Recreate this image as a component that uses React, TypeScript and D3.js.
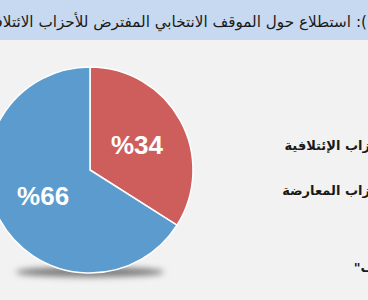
import React from 'react';
import * as d3 from 'd3';

const categories = ['الأحزاب الإئتلافية', 'الأحزاب المعارضة'];
const values = [34, 66];
const valueLabels = ['%34', '%66'];
const colors = ['#cd5e5c', '#5b9bcd'];
const titlePrefix = 'شكل (1):';
const titleText = 'استطلاع حول الموقف الانتخابي المفترض للأحزاب الائتلافية';
const noteText = '"لا أعرف"';

export default function App() {
  const W = 368;
  const H = 300;
  const cx = 90;
  const cy = 170;
  const r = 103;
  const pieData = d3.pie<number>().sort(null).value((d) => d)(values);
  const arc = d3.arc<d3.PieArcDatum<number>>().innerRadius(0).outerRadius(r);
  const labelArc = d3.arc<d3.PieArcDatum<number>>().innerRadius(r * 0.52).outerRadius(r * 0.52);
  const legendY = d3.scalePoint<string>().domain(categories).range([145, 190]);
  const arabic = '"DejaVu Sans", "Noto Sans", sans-serif';

  return (
    <svg width={W} height={H} style={{ position: 'absolute', left: 0, top: 0 }}>
      <defs>
        <filter id="sh" x="-50%" y="-200%" width="200%" height="500%">
          <feGaussianBlur stdDeviation="3" />
        </filter>
      </defs>
      <rect x={0} y={0} width={W} height={H} fill="#f2f2f2" />
      <rect x={0} y={0} width={W} height={40} fill="#c6d9f0" />
      <text x={351} y={27} direction="rtl" textAnchor="start" fontFamily={arabic} fontSize={15.2} fill="#1a1a1a">
        {titleText}
      </text>
      <text x={356} y={27} direction="rtl" textAnchor="end" fontFamily={arabic} fontSize={15.2} fill="#1a1a1a">
        {titlePrefix}
      </text>
      <ellipse cx={cx} cy={cy + r - 1} rx={r * 0.72} ry={5} fill="#444" opacity={0.7} filter="url(#sh)" />
      <g transform={`translate(${cx},${cy})`}>
        {pieData.map((d, i) => (
          <path key={i} d={arc(d) || ''} fill={colors[i]} stroke="#ffffff" strokeWidth={1.5} />
        ))}
        {pieData.map((d, i) => {
          const [lx, ly] = labelArc.centroid(d);
          return (
            <text key={'l' + i} x={lx} y={ly} dy="0.36em" textAnchor="middle" fontFamily='"Liberation Sans", Arial, sans-serif' fontWeight="bold" fontSize={26} fill="#ffffff">
              {valueLabels[i]}
            </text>
          );
        })}
      </g>
      {categories.map((c) => (
        <text key={c} x={394} y={(legendY(c) || 0) + 5} direction="rtl" textAnchor="start" fontFamily={arabic} fontWeight="bold" fontSize={13} fill="#1a1a1a">
          {c}
        </text>
      ))}
      <text x={418} y={272} direction="rtl" textAnchor="start" fontFamily={arabic} fontWeight="bold" fontSize={13} fill="#1a1a1a">
        {noteText}
      </text>
    </svg>
  );
}
